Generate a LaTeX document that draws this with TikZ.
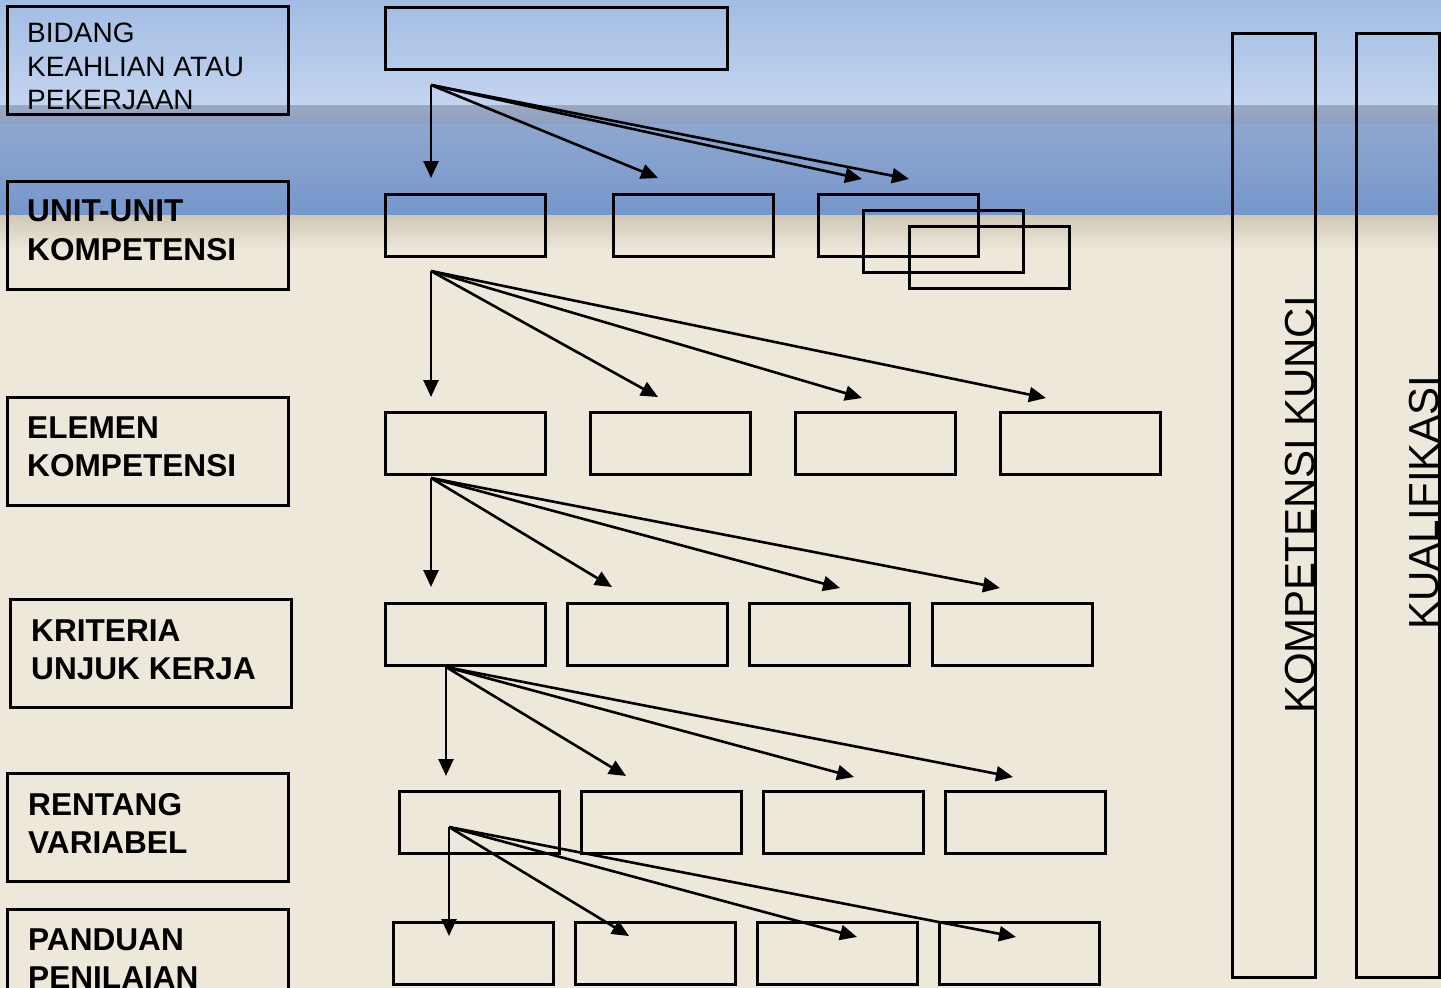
\documentclass[tikz,border=0pt]{standalone}
\usepackage{fontspec}
\setmainfont{Liberation Sans}
\usetikzlibrary{arrows.meta,positioning}
\definecolor{skyA}{HTML}{A2BCE3}
\definecolor{skyB}{HTML}{C3D5F0}
\definecolor{bandA}{HTML}{9BA9C2}
\definecolor{bandB}{HTML}{8C9FC0}
\definecolor{seaA}{HTML}{8EA7D0}
\definecolor{seaB}{HTML}{7697CB}
\definecolor{sandA}{HTML}{CFC7B6}
\definecolor{sand}{HTML}{EEE8DA}
\tikzset{
  kotak/.style={draw=black, line width=3pt, minimum width=160pt, minimum height=62pt, inner sep=0pt, outer sep=0pt, anchor=north west},
  judul/.style={draw=black, line width=3pt, minimum width=281pt, minimum height=108pt, inner sep=0pt, outer sep=0pt, anchor=north west},
  tegak/.style={draw=black, line width=3pt, minimum width=83pt, minimum height=944pt, inner sep=0pt, outer sep=0pt, anchor=north west},
  teks/.style={anchor=base west, inner sep=0pt, align=left, font=\fontsize{28}{33.3}\selectfont},
  tebal/.style={teks, font=\fontsize{31.6}{38.3}\selectfont\bfseries},
  putar/.style={anchor=base west, inner sep=0pt, rotate=90, font=\fontsize{42}{50}\selectfont},
  panah/.style={-{Triangle[length=17pt,width=15pt]}, line width=2.6pt},
}
\begin{document}
\begin{tikzpicture}[x=1pt,y=-1pt]
  \useasboundingbox (0,0) rectangle (1441,988);
  \fill[top color=skyA, bottom color=skyB] (0,0) rectangle (1441,105);
  \fill[top color=bandA, bottom color=bandB] (0,105) rectangle (1441,124);
  \fill[top color=seaA, bottom color=seaB] (0,124) rectangle (1441,215);
  \fill[top color=sandA, bottom color=sand] (0,215) rectangle (1441,250);
  \fill[sand] (0,250) rectangle (1441,988);

  \node[judul] (bidang) at (7,6) {};
  \node[judul] (unit) at (7,181) {};
  \node[judul] (elemen) at (7,397) {};
  \node[judul] (kriteria) at (10,599) {};
  \node[judul] (rentang) at (7,773) {};
  \node[judul, minimum height=120pt] (panduan) at (7,909) {};
  \node[teks] (tbidang) at (27,109.5) {BIDANG\\KEAHLIAN ATAU\\PEKERJAAN};
  \node[tebal] (tunit) at (27,260) {UNIT-UNIT\\KOMPETENSI};
  \node[tebal] (telemen) at (27,476.8) {ELEMEN\\KOMPETENSI};
  \node[tebal] (tkriteria) at (31,679.3) {KRITERIA\\UNJUK KERJA};
  \node[tebal] (trentang) at (28,853.3) {RENTANG\\VARIABEL};
  \node[tebal] (tpanduan) at (28,988.3) {PANDUAN\\PENILAIAN};

  \node[kotak, minimum width=342pt] (atas) at (385,7) {};
  \foreach \i/\x/\y in {1/385/194, 2/613/194, 3/818/194, 4/863/210, 5/909/226}
    \node[kotak] (u\i) at (\x,\y) {};
  \foreach \i/\x in {1/385, 2/590, 3/795, 4/1000}
    \node[kotak] (e\i) at (\x,412) {};
  \foreach \i/\x in {1/385, 2/567, 3/749, 4/932}
    \node[kotak] (k\i) at (\x,603) {};
  \foreach \i/\x in {1/399, 2/581, 3/763, 4/945}
    \node[kotak] (r\i) at (\x,791) {};
  \foreach \i/\x in {1/393, 2/575, 3/757, 4/939}
    \node[kotak] (p\i) at (\x,922) {};

  \node[tegak] (kunci) at (1232,33) {};
  \node[tegak] (kualif) at (1356,33) {};
  \node[putar] (tkunci) at (1314,714) {KOMPETENSI KUNCI};
  \node[putar] (tkualif) at (1438,630) {KUALIFIKASI};

  \coordinate (s0) at (431,85);
  \coordinate (s1) at (431,271);
  \coordinate (s2) at (431,478);
  \coordinate (s3) at (446,667);
  \coordinate (s4) at (449,827);
  \foreach \s/\a/\b/\c/\d/\y in {0/431/658/862/909/178, 1/431/658/862/1046/397, 2/431/612/840/1000/587, 3/446/626/854/1013/776, 4/449/629/857/1016/936}{
    \coordinate (t\s-1) at (\a,\y);
    \coordinate (t\s-2) at (\b,\y);
    \coordinate (t\s-3) at (\c,\y+1);
    \coordinate (t\s-4) at (\d,\y+1);
    \foreach \j in {1,...,4}
      \draw[panah] (s\s) -- (t\s-\j);
  }
\end{tikzpicture}
\end{document}
